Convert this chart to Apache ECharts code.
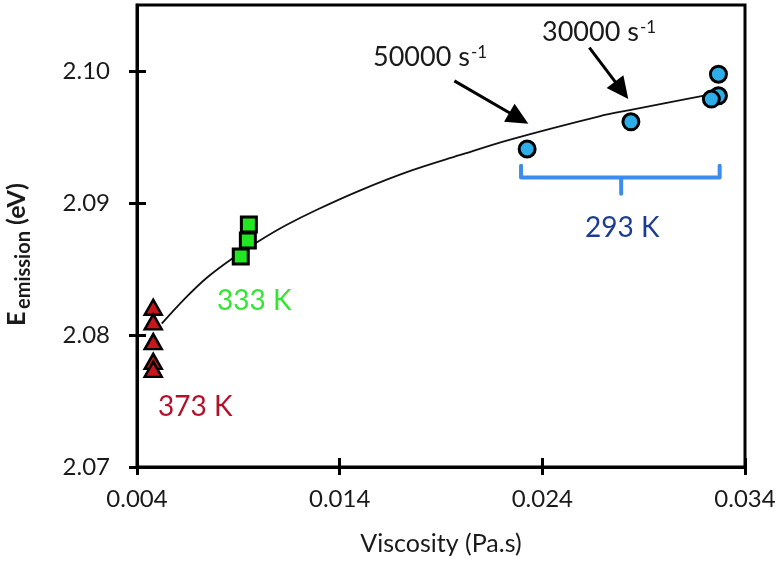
<!DOCTYPE html>
<html><head><meta charset="utf-8">
<script src="https://cdn.jsdelivr.net/npm/echarts@6/dist/echarts.min.js"></script>
<style>html,body{margin:0;padding:0;background:#fff}#c{width:782px;height:565px}</style>
</head><body><div id="c"></div>
<script>
// ---- data ----
const xTicks = [0.004, 0.014, 0.024, 0.034];
const yTicks = [2.07, 2.08, 2.09, 2.10];
const data373K = [[0.0048,2.0821],[0.0048,2.0810],[0.0048,2.0795],[0.0048,2.0780],[0.0048,2.0774]];
const data333K = [[0.00912,2.08595],[0.00947,2.08716],[0.00952,2.08837]];
const data293K = [[0.02325,2.09409],[0.02837,2.09615],[0.03269,2.09976],[0.03269,2.09812],[0.03234,2.09787]];
const fitCurve = [[0.00522,2.08086],[0.00636,2.08276],[0.00746,2.08436],[0.00874,2.08584],[0.01006,2.08716],
  [0.01137,2.08833],[0.01285,2.08947],[0.01499,2.09094],[0.01745,2.09241],[0.01991,2.09362],[0.02237,2.09479],
  [0.02681,2.09657],[0.02837,2.09706],[0.03026,2.09763],[0.03237,2.09825]];
const bracket293K = [[0.02295,2.09283],[0.02295,2.09194],[0.02789,2.09194],[0.02789,2.09071],[0.02789,2.09194],[0.03275,2.09194],[0.03275,2.09283]];
const arrow50000 = [[0.01966,2.09925],[0.02331,2.09600]];
const arrow30000 = [[0.02632,2.10177],[0.02824,2.09787]];

const FONT = 'Lato, "Open Sans", sans-serif';
const TXT = '#1a1a1a';
const chart = echarts.init(document.getElementById('c'), null, {renderer:'canvas'});

function baseAxis(extra){
  return Object.assign({
    type:'value', splitLine:{show:false},
    axisLine:{show:true, onZero:false, lineStyle:{color:'#000', width:3}},
  }, extra);
}

const option = {
  animation:false,
  backgroundColor:'#fff',
  grid:{left:137, right:37, top:5, bottom:98, show:true, borderColor:'#000', borderWidth:3, outerBoundsMode:'none', containLabel:false},
  xAxis:[
    baseAxis({min:0.004, max:0.034, interval:0.01,
      axisTick:{show:true, inside:false, length:8, lineStyle:{color:'#000', width:3}, customValues:xTicks},
      axisLabel:{show:true, margin:20, color:TXT, fontFamily:FONT, fontSize:24, customValues:xTicks,
        formatter:v=>v.toFixed(3)},
      name:'Viscosity (Pa.s)', nameLocation:'middle', nameGap:64,
      nameTextStyle:{color:TXT, fontFamily:FONT, fontSize:25}}),
    baseAxis({min:0.004, max:0.034, interval:0.01, position:'bottom',
      axisLine:{show:false},
      axisTick:{show:true, inside:true, length:9, lineStyle:{color:'#000', width:3}, customValues:xTicks},
      axisLabel:{show:false}})
  ],
  yAxis:[
    baseAxis({min:2.07, max:2.105, interval:0.01,
      axisTick:{show:true, inside:false, length:8, lineStyle:{color:'#000', width:3}, customValues:yTicks},
      axisLabel:{show:true, margin:27, color:TXT, fontFamily:FONT, fontSize:24, customValues:yTicks,
        formatter:v=>v.toFixed(2)}}),
    baseAxis({min:2.07, max:2.105, interval:0.01, position:'left',
      axisLine:{show:false},
      axisTick:{show:true, inside:true, length:9, lineStyle:{color:'#000', width:3}, customValues:yTicks},
      axisLabel:{show:false}})
  ],
  series:[
    {type:'line', name:'fit', data:fitCurve, smooth:0.35, symbol:'none', z:2,
      lineStyle:{color:'#111', width:1.8}, silent:true},
    {type:'line', name:'bracket', data:bracket293K, symbol:'none', z:2, silent:true,
      lineStyle:{color:'#3b8cec', width:4, cap:'round', join:'round'}},
    {type:'scatter', name:'373 K', data:data373K, symbol:'triangle', symbolSize:[17,15], z:3,
      itemStyle:{color:'#c8161c', borderColor:'#000', borderWidth:2.5, opacity:1}},
    {type:'scatter', name:'333 K', data:data333K, symbol:'rect', symbolSize:15, z:3,
      itemStyle:{color:'#22e622', borderColor:'#000', borderWidth:3, opacity:1}},
    {type:'scatter', name:'293 K', data:data293K, symbol:'circle', symbolSize:16, z:3,
      itemStyle:{color:'#2eaee8', borderColor:'#000', borderWidth:3, opacity:1}}
  ]
};
chart.setOption(option);

// ---- annotations ----
const mctx = document.createElement('canvas').getContext('2d');
function tw(text, font){ mctx.font = font; return mctx.measureText(text).width; }

function arrowGraphics(pts){
  const a = chart.convertToPixel({xAxisIndex:0, yAxisIndex:0}, pts[0]);
  const b = chart.convertToPixel({xAxisIndex:0, yAxisIndex:0}, pts[1]);
  const dx = b[0]-a[0], dy = b[1]-a[1], L = Math.hypot(dx, dy);
  const ux = dx/L, uy = dy/L, px = -uy, py = ux;
  const headLen = 22, headW = 10.5;
  const bx = b[0]-ux*headLen, by = b[1]-uy*headLen;
  return [
    {type:'line', shape:{x1:a[0], y1:a[1], x2:bx+ux*2, y2:by+uy*2}, style:{stroke:'#000', lineWidth:3}, z:10},
    {type:'polygon', shape:{points:[[b[0],b[1]],[bx+px*headW,by+py*headW],[bx-px*headW,by-py*headW]]},
      style:{fill:'#000'}, z:10}
  ];
}

function supLabel(x, y, main, sup){
  const f1 = '27px '+FONT, f2 = '17px '+FONT;
  const w = tw(main, f1);
  return [
    {type:'text', x:x, y:y, style:{text:main, fill:TXT, font:f1, verticalAlign:'middle'}, z:10},
    {type:'text', x:x+w+1, y:y-5, style:{text:sup, fill:TXT, font:f2, verticalAlign:'middle'}, z:10}
  ];
}

const graphics = [].concat(
  [{type:'group', x:16.5, y:326, rotation:Math.PI/2, children:[
    {type:'text', x:0, y:0, style:{text:'E', fill:TXT, font:'bold 25px '+FONT, verticalAlign:'middle', align:'left'}},
    {type:'text', x:17, y:7.5, style:{text:'emission', fill:TXT, font:'bold 20px '+FONT, verticalAlign:'middle', align:'left'}},
    {type:'text', x:101, y:0, style:{text:'(eV)', fill:TXT, font:'bold 25px '+FONT, verticalAlign:'middle', align:'left'}}
  ]}],
  supLabel(373, 57.5, '50000 s', '-1'),
  supLabel(542, 32.5, '30000 s', '-1'),
  arrowGraphics(arrow50000),
  arrowGraphics(arrow30000),
  [
    {type:'text', x:217, y:300.5, style:{text:'333 K', fill:'#33e633', font:'28px '+FONT, verticalAlign:'middle'}},
    {type:'text', x:158, y:406.5, style:{text:'373 K', fill:'#b3102c', font:'28px '+FONT, verticalAlign:'middle'}},
    {type:'text', x:585, y:227.5, style:{text:'293 K', fill:'#1c3d8f', font:'28px '+FONT, verticalAlign:'middle'}}
  ]
);
chart.setOption({graphic: graphics});
</script></body></html>
